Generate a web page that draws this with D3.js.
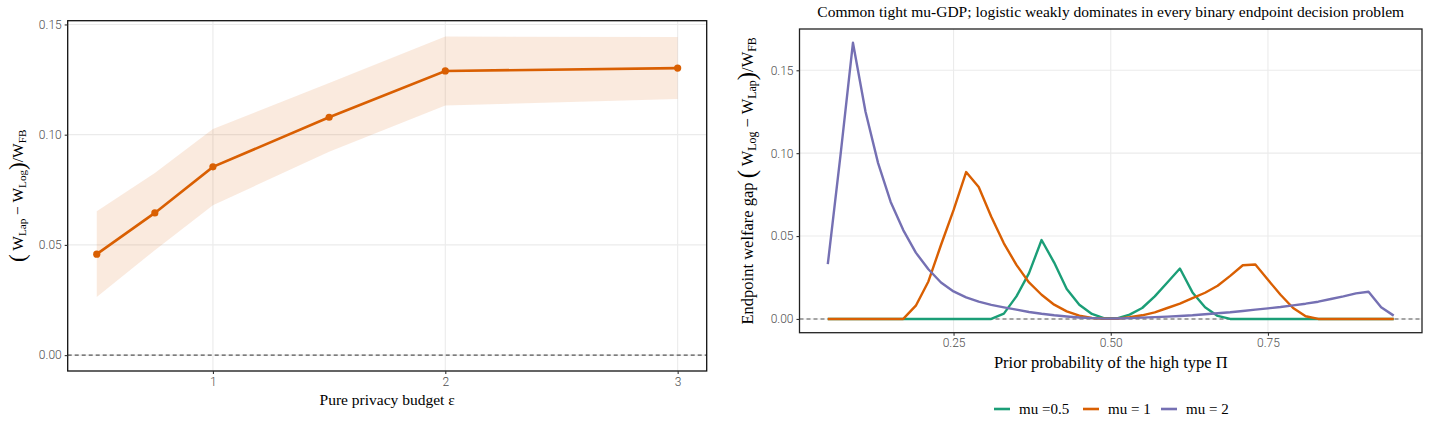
<!DOCTYPE html>
<html>
<head>
<meta charset="utf-8">
<script src="https://cdn.jsdelivr.net/npm/d3@7"></script>
<style>
  body { margin: 0; background: #fff; }
  .tick text { font-family: Roboto, "DejaVu Sans", sans-serif; font-weight: 300; font-size: 12px; fill: #4d4d4d; }
  .lab { font-family: "Liberation Serif", "DejaVu Serif", serif; fill: #000; }
</style>
</head>
<body>
<div id="chart"></div>
<script>
'use strict';

// Left panel: welfare gap by privacy budget
var epsValues = [0.5, 0.75, 1, 1.5, 2, 3];
var gapMean   = [0.0458, 0.0645, 0.0854, 0.1079, 0.1289, 0.1302];
var gapLower  = [0.0264, 0.0476, 0.0680, 0.0922, 0.1132, 0.1162];
var gapUpper  = [0.0653, 0.0826, 0.1026, 0.1234, 0.1445, 0.1443];
var epsTicks  = [1, 2, 3];
var leftYTicks = [0, 0.05, 0.10, 0.15];

// Right panel: endpoint welfare gap by prior
var priorGrid = [0.05, 0.07, 0.09, 0.11, 0.13, 0.15, 0.17, 0.19, 0.21, 0.23, 0.25, 0.27, 0.29, 0.31, 0.33,
  0.35, 0.37, 0.39, 0.41, 0.43, 0.45, 0.47, 0.49, 0.51, 0.53, 0.55, 0.57, 0.59, 0.61, 0.63, 0.65, 0.67,
  0.69, 0.71, 0.73, 0.75, 0.77, 0.79, 0.81, 0.83, 0.85, 0.87, 0.89, 0.91, 0.93, 0.95];
var gapMu05 = [0, 0, 0, 0, 0, 0, 0, 0, 0, 0, 0, 0, 0, 0, 0.0032,
  0.0136, 0.0276, 0.0476, 0.0340, 0.0180, 0.0086, 0.0030, 0.0004, 0.0004, 0.0026, 0.0066, 0.0136, 0.0220, 0.0304, 0.0160, 0.0070, 0.0018,
  0, 0, 0, 0, 0, 0, 0, 0, 0, 0, 0, 0, 0, 0];
var gapMu1 = [0, 0, 0, 0, 0, 0, 0, 0.0080, 0.0226, 0.0446, 0.0656, 0.0886, 0.0796, 0.0616, 0.0456,
  0.0326, 0.0220, 0.0146, 0.0086, 0.0046, 0.0020, 0.0006, 0.0001, 0.0001, 0.0010, 0.0022, 0.0040, 0.0066, 0.0092, 0.0126, 0.0158, 0.0200,
  0.0260, 0.0324, 0.0328, 0.0236, 0.0146, 0.0066, 0.0016, 0, 0, 0, 0, 0, 0, 0];
var gapMu2 = [0.0330, 0.0980, 0.1666, 0.1250, 0.0940, 0.0706, 0.0536, 0.0400, 0.0300, 0.0220, 0.0166, 0.0130, 0.0104, 0.0085, 0.0070,
  0.0056, 0.0042, 0.0031, 0.0022, 0.0015, 0.0009, 0.0005, 0.0002, 0.0003, 0.0005, 0.0008, 0.0011, 0.0014, 0.0018, 0.0022, 0.0028, 0.0034,
  0.0040, 0.0048, 0.0056, 0.0064, 0.0072, 0.0082, 0.0092, 0.0104, 0.0120, 0.0136, 0.0154, 0.0164, 0.0070, 0.0020];
var seriesNames  = ['mu =0.5', 'mu = 1', 'mu = 2'];
var seriesColors = ['#1b9e77', '#d95f02', '#7570b3'];
var priorTicks = [0.25, 0.50, 0.75];
var rightYTicks = [0, 0.05, 0.10, 0.15];

var W = 1433, H = 435;
var orange = '#d95f02';

var svg = d3.select('#chart').append('svg')
  .attr('width', W)
  .attr('height', H);

// helper: axis label with W subscripts
function gapLabel(sel, first, second, size) {
  sel.append('tspan').attr('font-size', size * 1.5).attr('dy', 2).text('(');
  sel.append('tspan').attr('dy', -2).attr('font-size', size).text(' W');
  sel.append('tspan').attr('font-size', size * 0.72).attr('dy', 3).text(first);
  sel.append('tspan').attr('font-size', size).attr('dy', -3).text(' \u2212 W');
  sel.append('tspan').attr('font-size', size * 0.72).attr('dy', 3).text(second);
  sel.append('tspan').attr('font-size', size * 1.5).attr('dy', -1).text(')');
  sel.append('tspan').attr('font-size', size).attr('dy', -2).text('/W');
  sel.append('tspan').attr('font-size', size * 0.72).attr('dy', 3).text('FB');
}

function drawGrid(g, x, y, xt, yt, w, h) {
  g.append('g').selectAll('line.gx').data(xt).enter().append('line')
    .attr('x1', function(d) { return x(d); }).attr('x2', function(d) { return x(d); })
    .attr('y1', 0).attr('y2', h)
    .attr('stroke', '#ebebeb').attr('stroke-width', 1.1);
  g.append('g').selectAll('line.gy').data(yt).enter().append('line')
    .attr('y1', function(d) { return y(d); }).attr('y2', function(d) { return y(d); })
    .attr('x1', 0).attr('x2', w)
    .attr('stroke', '#ebebeb').attr('stroke-width', 1.1);
}

function drawAxes(g, x, y, xt, yt, w, h, xfmt) {
  var xa = g.append('g').attr('transform', 'translate(0,' + h + ')')
    .call(d3.axisBottom(x).tickValues(xt).tickSize(3).tickPadding(3).tickFormat(xfmt));
  var ya = g.append('g')
    .call(d3.axisLeft(y).tickValues(yt).tickSize(3).tickPadding(3).tickFormat(d3.format('.2f')));
  [xa, ya].forEach(function(a) {
    a.select('.domain').remove();
    a.selectAll('.tick line').attr('stroke', '#333').attr('stroke-width', 1.1);
  });
}

// ---------------- left panel ----------------
var L = {left: 67.7, top: 20.7, right: 706.7, bottom: 371};
var lw = L.right - L.left, lh = L.bottom - L.top;
var lx = d3.scaleLinear().domain([0.375, 3.125]).range([0, lw]);
var ly = d3.scaleLinear().domain([-0.0072, 0.1517]).range([lh, 0]);
var lg = svg.append('g').attr('transform', 'translate(' + L.left + ',' + L.top + ')');

drawGrid(lg, lx, ly, epsTicks, leftYTicks, lw, lh);

lg.append('line')
  .attr('x1', 0).attr('x2', lw).attr('y1', ly(0)).attr('y2', ly(0))
  .attr('stroke', '#555').attr('stroke-width', 1.1).attr('stroke-dasharray', '4,3');

var leftData = epsValues.map(function(e, i) {
  return {eps: e, mean: gapMean[i], lo: gapLower[i], hi: gapUpper[i]};
});

lg.append('path').datum(leftData)
  .attr('fill', orange).attr('fill-opacity', 0.13)
  .attr('d', d3.area()
    .x(function(d) { return lx(d.eps); })
    .y0(function(d) { return ly(d.lo); })
    .y1(function(d) { return ly(d.hi); }));

lg.append('path').datum(leftData)
  .attr('fill', 'none').attr('stroke', orange).attr('stroke-width', 2.6)
  .attr('d', d3.line()
    .x(function(d) { return lx(d.eps); })
    .y(function(d) { return ly(d.mean); }));

lg.selectAll('circle').data(leftData).enter().append('circle')
  .attr('cx', function(d) { return lx(d.eps); })
  .attr('cy', function(d) { return ly(d.mean); })
  .attr('r', 3.6).attr('fill', orange);

lg.append('rect').attr('width', lw).attr('height', lh)
  .attr('fill', 'none').attr('stroke', '#111').attr('stroke-width', 1.3);

drawAxes(lg, lx, ly, epsTicks, leftYTicks, lw, lh, d3.format('d'));

svg.append('text').attr('class', 'lab')
  .attr('x', L.left + lw / 2).attr('y', 405)
  .attr('text-anchor', 'middle').attr('font-size', 15.5)
  .text('Pure privacy budget  \u03b5');

var lyl = svg.append('text').attr('class', 'lab')
  .attr('transform', 'translate(23,' + (L.top + lh / 2) + ') rotate(-90)')
  .attr('text-anchor', 'middle');
gapLabel(lyl, 'Lap', 'Log', 15.5);

// ---------------- right panel ----------------
var R = {left: 799.5, top: 29, right: 1422, bottom: 332.7};
var rw = R.right - R.left, rh = R.bottom - R.top;
var rx = d3.scaleLinear().domain([0.005, 0.995]).range([0, rw]);
var ry = d3.scaleLinear().domain([-0.0083, 0.1749]).range([rh, 0]);
var rg = svg.append('g').attr('transform', 'translate(' + R.left + ',' + R.top + ')');

drawGrid(rg, rx, ry, priorTicks, rightYTicks, rw, rh);

rg.append('line')
  .attr('x1', 0).attr('x2', rw).attr('y1', ry(0)).attr('y2', ry(0))
  .attr('stroke', '#555').attr('stroke-width', 1.1).attr('stroke-dasharray', '4,3');

var rightSeries = [gapMu05, gapMu1, gapMu2];
var rline = d3.line()
  .x(function(d, i) { return rx(priorGrid[i]); })
  .y(function(d) { return ry(d); });

rg.selectAll('path.curve').data(rightSeries).enter().append('path')
  .attr('class', 'curve')
  .attr('fill', 'none')
  .attr('stroke', function(d, i) { return seriesColors[i]; })
  .attr('stroke-width', 2.4)
  .attr('stroke-linejoin', 'round')
  .attr('d', rline);

rg.append('rect').attr('width', rw).attr('height', rh)
  .attr('fill', 'none').attr('stroke', '#222').attr('stroke-width', 1.3);

drawAxes(rg, rx, ry, priorTicks, rightYTicks, rw, rh, d3.format('.2f'));

svg.append('text').attr('class', 'lab')
  .attr('x', R.left + rw / 2).attr('y', 17)
  .attr('text-anchor', 'middle').attr('font-size', 15.5)
  .text('Common tight mu-GDP; logistic weakly dominates in every binary endpoint decision problem');

svg.append('text').attr('class', 'lab')
  .attr('x', R.left + rw / 2).attr('y', 368)
  .attr('text-anchor', 'middle').attr('font-size', 16.5)
  .text('Prior probability of the high type  \u03a0');

var ryl = svg.append('text').attr('class', 'lab')
  .attr('transform', 'translate(753,' + (R.top + rh / 2) + ') rotate(-90)')
  .attr('text-anchor', 'middle').attr('font-size', 16.5);
ryl.append('tspan').text('Endpoint welfare gap   ');
gapLabel(ryl, 'Log', 'Lap', 16.5);

// legend
var legX = [994, 1083, 1161];
var leg = svg.append('g').selectAll('g').data(seriesNames).enter().append('g')
  .attr('transform', function(d, i) { return 'translate(' + legX[i] + ',409)'; });
leg.append('line').attr('x1', 0).attr('x2', 16)
  .attr('stroke', function(d, i) { return seriesColors[i]; }).attr('stroke-width', 2.6);
leg.append('text').attr('class', 'lab')
  .attr('x', 25).attr('y', 5).attr('font-size', 15)
  .text(function(d) { return d; });
</script>
</body>
</html>
